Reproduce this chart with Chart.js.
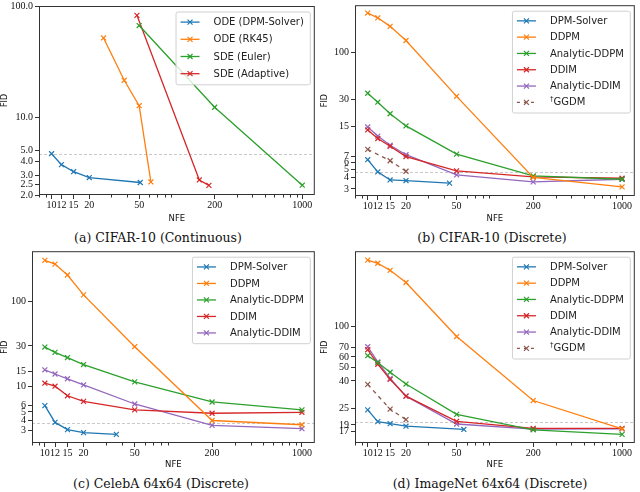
<!DOCTYPE html>
<html>
<head>
<meta charset="utf-8">
<script src="https://cdn.jsdelivr.net/npm/chart.js@4.4.0/dist/chart.umd.min.js"></script>
<style>
  body { margin: 0; background: #fff; }
  #page { position: relative; width: 640px; height: 492px; overflow: hidden; background: #fff; }
  .panel { position: absolute; width: 320px; height: 225px; }
  .cap { position: absolute; width: 300px; text-align: center; font-family: "DejaVu Serif", serif;
         font-size: 12.5px; line-height: 15px; color: #111; white-space: nowrap; }
</style>
</head>
<body>
<div id="page">
  <div class="panel" style="left:0;top:0"><canvas id="chartA" width="320" height="225"></canvas></div>
  <div class="panel" style="left:320px;top:0"><canvas id="chartB" width="320" height="225"></canvas></div>
  <div class="panel" style="left:0;top:246px"><canvas id="chartC" width="320" height="225"></canvas></div>
  <div class="panel" style="left:320px;top:246px"><canvas id="chartD" width="320" height="225"></canvas></div>
  <div class="cap" style="left:8px;top:230px">(a) CIFAR-10 (Continuous)</div>
  <div class="cap" style="left:342px;top:230px">(b) CIFAR-10 (Discrete)</div>
  <div class="cap" style="left:11px;top:476px">(c) CelebA 64x64 (Discrete)</div>
  <div class="cap" style="left:340px;top:476px">(d) ImageNet 64x64 (Discrete)</div>
</div>
<script>
// x axis (NFE), shared by all panels
const nfeTicks = [10, 12, 15, 20, 50, 200, 1000];
const nfeMinor = [8, 9, 30, 40, 60, 70, 80, 90, 300, 400, 500, 600, 700, 800, 900];
const stdNfe = [10, 12, 15, 20, 50, 200, 1000];
const ggdmNfe = [10, 15, 20];

// (a) CIFAR-10 continuous
const aDpmNfe = [10, 12, 15, 20, 51];
const aDpmFid = [4.70, 3.75, 3.24, 2.87, 2.59];
const aRk45Nfe = [26, 38, 50, 62];
const aRk45Fid = [51.6, 21.5, 12.7, 2.62];
const aEulerNfe = [50, 200, 1000];
const aEulerFid = [66.7, 12.3, 2.45];
const aAdaptNfe = [48, 151, 180];
const aAdaptFid = [82.4, 2.73, 2.44];
const aYTicks = [2, 2.5, 3, 4, 5, 10, 100];
const aRef = 4.7;

// (b) CIFAR-10 discrete
const bDpmNfe = [10, 12, 15, 20, 44];
const bDpmFid = [6.37, 4.65, 3.78, 3.72, 3.48];
const bDdpm = [278.7, 246.3, 197.6, 137.3, 32.6, 4.03, 3.16];
const bAnaDdpm = [35.3, 28.0, 20.8, 15.2, 7.36, 4.2, 3.85];
const bDdim = [13.7, 11.0, 9.0, 6.9, 4.78, 4.1, 3.95];
const bAnaDdim = [14.8, 11.7, 9.25, 7.24, 4.31, 3.6, 3.85];
const bGgdm = [8.3, 6.2, 4.73];
const bYTicks = [3, 4, 5, 6, 7, 15, 30, 100];
const bRef = 4.65;

// (c) CelebA 64x64
const cDpmNfe = [10, 12, 15, 20, 36];
const cDpmFid = [5.93, 3.76, 3.09, 2.85, 2.72];
const cDdpm = [306, 277, 206, 120, 29.4, 3.96, 3.53];
const cAnaDdpm = [29.1, 25.2, 21.9, 18.1, 11.3, 6.55, 5.28];
const cDdim = [10.9, 10.05, 7.75, 6.65, 5.28, 4.82, 4.95];
const cAnaDdim = [15.7, 14.0, 12.3, 10.4, 6.2, 3.47, 3.17];
const cYTicks = [3, 4, 5, 6, 10, 15, 30, 100];
const cRef = 3.73;

// (d) ImageNet 64x64
const dDpmNfe = [10, 12, 15, 20, 57];
const dDpmFid = [24.5, 20.1, 19.4, 18.6, 17.6];
const dDdpm = [308, 292, 259, 211, 84.6, 28.7, 17.8];
const dAnaDdpm = [61.2, 54.5, 46.3, 37.9, 22.7, 17.5, 16.2];
const dDdim = [67.7, 53, 41, 30.9, 20.2, 17.95, 17.9];
const dAnaDdim = [71.2, 55.1, 41.7, 30.9, 19.3, 17.7, 17.8];
const dGgdm = [37.7, 24.8, 20.8];
const dYTicks = [17, 19, 25, 40, 50, 60, 70, 100];
const dRef = 20.1;

const colors = {
    blue: '#1f77b4', orange: '#ff7f0e', green: '#2ca02c',
    red: '#d62728', purple: '#9467bd', brown: '#8c564b'
};

const serifFamily = '"Liberation Serif", "Times New Roman", serif';
const sansFamily = '"DejaVu Sans", sans-serif';

function series(label, xs, ys, color, dashed) {
    return {
        label: label,
        data: xs.map((x, i) => ({ x: x, y: ys[i] })),
        borderColor: color,
        backgroundColor: color,
        borderWidth: 1.3,
        borderDash: dashed ? [4, 4] : [],
        showLine: true,
        pointStyle: 'crossRot',
        pointRadius: 3.5,
        pointBorderWidth: 1.2,
        tension: 0,
        fill: false
    };
}

const decor = {
    id: 'decor',
    beforeDatasetsDraw(chart, args, opts) {
        const ctx = chart.ctx;
        const a = chart.chartArea;
        const y = Math.round(chart.scales.y.getPixelForValue(opts.ref)) + 0.5;
        ctx.save();
        ctx.strokeStyle = '#bbbbbb';
        ctx.lineWidth = 0.8;
        ctx.setLineDash([3, 2]);
        ctx.beginPath();
        ctx.moveTo(a.left, y);
        ctx.lineTo(a.right, y);
        ctx.stroke();
        ctx.restore();
    },
    afterDraw(chart, args, opts) {
        const ctx = chart.ctx;
        const a = chart.chartArea;
        const xs = chart.scales.x;
        ctx.save();
        // frame
        ctx.strokeStyle = '#333';
        ctx.lineWidth = 1;
        ctx.strokeRect(a.left + 0.5, a.top + 0.5, a.right - a.left - 1, a.bottom - a.top - 1);
        // minor x ticks
        ctx.beginPath();
        nfeMinor.forEach(v => {
            if (v < xs.min || v > xs.max) return;
            const x = Math.round(xs.getPixelForValue(v)) + 0.5;
            ctx.moveTo(x, a.bottom);
            ctx.lineTo(x, a.bottom + 2.5);
        });
        ctx.stroke();

        // legend box, upper right
        const ds = chart.data.datasets;
        const font = '10px ' + sansFamily;
        const small = '7px ' + sansFamily;
        ctx.font = font;
        let maxW = 0;
        ds.forEach(d => {
            let w;
            if (d.label.startsWith('\u2020')) {
                ctx.font = small;
                w = ctx.measureText('\u2020').width;
                ctx.font = font;
                w += ctx.measureText(d.label.slice(1)).width;
            } else {
                w = ctx.measureText(d.label).width;
            }
            maxW = Math.max(maxW, w);
        });
        const rowH = opts.rowH;
        const bw = 38 + maxW + 6;
        const bh = rowH * ds.length + 4;
        const bx = a.right - 5 - bw;
        const by = a.top + 5.5;
        ctx.fillStyle = 'rgba(255,255,255,0.8)';
        ctx.strokeStyle = '#d0d0d0';
        ctx.lineWidth = 1;
        ctx.beginPath();
        ctx.roundRect(bx + 0.5, by + 0.5, bw, bh, 2);
        ctx.fill();
        ctx.stroke();
        ds.forEach((d, i) => {
            const cy = by + 2 + rowH * (i + 0.5);
            ctx.strokeStyle = d.borderColor;
            ctx.lineWidth = 1.3;
            ctx.setLineDash(d.borderDash.length ? [3, 4] : []);
            ctx.beginPath();
            ctx.moveTo(bx + 5, cy);
            ctx.lineTo(bx + 24, cy);
            ctx.stroke();
            ctx.setLineDash([]);
            ctx.lineWidth = 1.2;
            const mx = bx + 14.5, r = 2.5;
            ctx.beginPath();
            ctx.moveTo(mx - r, cy - r); ctx.lineTo(mx + r, cy + r);
            ctx.moveTo(mx - r, cy + r); ctx.lineTo(mx + r, cy - r);
            ctx.stroke();
            ctx.fillStyle = '#222';
            ctx.textBaseline = 'middle';
            ctx.textAlign = 'left';
            let tx = bx + 38;
            let text = d.label;
            if (text.startsWith('\u2020')) {
                ctx.font = small;
                ctx.fillText('\u2020', tx, cy - 3);
                tx += ctx.measureText('\u2020').width;
                text = text.slice(1);
            }
            ctx.font = font;
            ctx.fillText(text, tx, cy + 0.5);
        });
        ctx.restore();
    }
};

function makePanel(id, datasets, cfg) {
    const ctx = document.getElementById(id).getContext('2d');
    return new Chart(ctx, {
        type: 'scatter',
        data: { datasets: datasets },
        plugins: [decor],
        options: {
            responsive: false,
            animation: false,
            devicePixelRatio: 1,
            layout: { padding: { top: cfg.top, right: 320 - cfg.right, left: 0, bottom: 0 } },
            plugins: {
                legend: { display: false },
                tooltip: { enabled: false },
                decor: { ref: cfg.ref, rowH: cfg.rowH }
            },
            scales: {
                x: {
                    type: 'logarithmic',
                    min: Math.pow(10, 0.9),
                    max: Math.pow(10, 3.1),
                    afterBuildTicks: s => { s.ticks = nfeTicks.map(v => ({ value: v })); },
                    afterFit: s => { s.height = 225 - cfg.bottom; s.paddingLeft = 0; s.paddingRight = 0; },
                    border: { display: false },
                    grid: { drawOnChartArea: false, drawTicks: true, tickLength: 4, tickColor: '#333' },
                    ticks: {
                        autoSkip: false, maxRotation: 0, padding: 0, color: '#111',
                        font: { family: serifFamily, size: 10 },
                        callback: v => String(v)
                    },
                    title: {
                        display: true, text: 'NFE', color: '#111',
                        font: { family: sansFamily, size: 8.5 },
                        padding: { top: 0, bottom: 1.5 }
                    }
                },
                y: {
                    type: 'logarithmic',
                    min: cfg.yMin,
                    max: cfg.yMax,
                    afterBuildTicks: s => { s.ticks = cfg.yTicks.map(v => ({ value: v })); },
                    afterFit: s => { s.width = cfg.left; s.paddingTop = 0; s.paddingBottom = 0; },
                    border: { display: false },
                    grid: { drawOnChartArea: false, drawTicks: true, tickLength: 4, tickColor: '#333' },
                    ticks: {
                        autoSkip: false, padding: 2, color: '#111',
                        font: { family: serifFamily, size: 10 },
                        callback: v => cfg.yFmt ? cfg.yFmt(v) : String(v)
                    },
                    title: {
                        display: true, text: 'FID', color: '#111',
                        font: { family: sansFamily, size: 8 },
                        padding: { top: 0, bottom: 0 }
                    }
                }
            }
        }
    });
}

document.addEventListener('DOMContentLoaded', () => {
    makePanel('chartA', [
        series('ODE (DPM-Solver)', aDpmNfe, aDpmFid, colors.blue),
        series('ODE (RK45)', aRk45Nfe, aRk45Fid, colors.orange),
        series('SDE (Euler)', aEulerNfe, aEulerFid, colors.green),
        series('SDE (Adaptive)', aAdaptNfe, aAdaptFid, colors.red)
    ], { left: 39, right: 316, top: 6, bottom: 195, yMin: 2, yMax: 100, yTicks: aYTicks,
         yFmt: v => v.toFixed(1), ref: aRef, rowH: 17.2 });

    makePanel('chartB', [
        series('DPM-Solver', bDpmNfe, bDpmFid, colors.blue),
        series('DDPM', stdNfe, bDdpm, colors.orange),
        series('Analytic-DDPM', stdNfe, bAnaDdpm, colors.green),
        series('DDIM', stdNfe, bDdim, colors.red),
        series('Analytic-DDIM', stdNfe, bAnaDdim, colors.purple),
        series('\u2020GGDM', ggdmNfe, bGgdm, colors.brown, true)
    ], { left: 35, right: 319, top: 3, bottom: 196, yMin: 2.5, yMax: 341, yTicks: bYTicks,
         ref: bRef, rowH: 16.3 });

    makePanel('chartC', [
        series('DPM-Solver', cDpmNfe, cDpmFid, colors.blue),
        series('DDPM', stdNfe, cDdpm, colors.orange),
        series('Analytic-DDPM', stdNfe, cAnaDdpm, colors.green),
        series('DDIM', stdNfe, cDdim, colors.red),
        series('Analytic-DDIM', stdNfe, cAnaDdim, colors.purple)
    ], { left: 32, right: 318, top: 3, bottom: 197, yMin: 2.15, yMax: 393, yTicks: cYTicks,
         ref: cRef, rowH: 16.5 });

    makePanel('chartD', [
        series('DPM-Solver', dDpmNfe, dDpmFid, colors.blue),
        series('DDPM', stdNfe, dDdpm, colors.orange),
        series('Analytic-DDPM', stdNfe, dAnaDdpm, colors.green),
        series('DDIM', stdNfe, dDdim, colors.red),
        series('Analytic-DDIM', stdNfe, dAnaDdim, colors.purple),
        series('\u2020GGDM', ggdmNfe, dGgdm, colors.brown, true)
    ], { left: 35, right: 319, top: 3, bottom: 197, yMin: 14, yMax: 358, yTicks: dYTicks,
         ref: dRef, rowH: 16.3 });
});
</script>
</body>
</html>
